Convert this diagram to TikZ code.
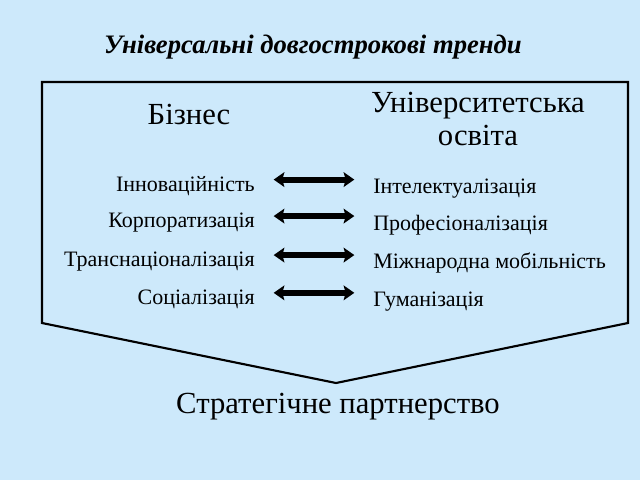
\documentclass[tikz,border=0pt]{standalone}
\usepackage{fontspec}
\setmainfont{Liberation Serif}
\usepackage{tikz}
\usetikzlibrary{arrows.meta}

\definecolor{skyback}{RGB}{205,233,251}

\tikzset{
  trendtitle/.style={font=\fontsize{20}{22}\selectfont\itshape\bfseries, inner sep=0pt},
  colhead/.style={font=\fontsize{23}{26}\selectfont, inner sep=0pt, align=center},
  lefttrend/.style={font=\fontsize{16.5}{18}\selectfont, inner sep=0pt, anchor=base east},
  righttrend/.style={font=\fontsize{16.5}{18}\selectfont, inner sep=0pt, anchor=base west},
  twoway/.style={line width=4.5pt, {Stealth[length=8pt,width=11pt,inset=1.5pt]}-{Stealth[length=8pt,width=11pt,inset=1.5pt]}, shorten <=14pt, shorten >=14pt}
}

\begin{document}
\begin{tikzpicture}[x=0.75pt, y=-0.75pt]
% background
    \fill[skyback] (0, 0) rectangle (640, 480);
    \useasboundingbox (0, 0) rectangle (640, 480);

% title
    \node[trendtitle, anchor=base] (title) at (313, 53) {Універсальні довгострокові тренди};

% draw outer pentagon
    \draw[line width=1.6pt, line join=miter] (42, 82) -- (628, 82) -- (628, 323) -- (336, 383) -- (42, 323) -- cycle;

% column heads
    \node[colhead, anchor=base] (biz) at (189, 124) {Бізнес};
    \node[colhead, anchor=base] (uni) at (478, 112) {Університетська};
    \node[colhead, anchor=base] (osv) at (478, 145) {освіта};

% business trends
    \node[lefttrend] (inn) at (255, 191) {Інноваційність};
    \node[lefttrend] (korp) at (255, 227) {Корпоратизація};
    \node[lefttrend] (trans) at (255, 266) {Транснаціоналізація};
    \node[lefttrend] (soc) at (255, 304) {Соціалізація};

% university trends
    \node[righttrend] (intel) at (373, 193) {Інтелектуалізація};
    \node[righttrend] (prof) at (373, 230) {Професіоналізація};
    \node[righttrend] (mizh) at (373, 268) {Міжнародна мобільність};
    \node[righttrend] (hum) at (373, 306) {Гуманізація};

% draw arrows
    \draw[twoway] ([yshift=4.5pt]inn.east) -- ([yshift=4.5pt]inn.east -| intel.west);
    \draw[twoway] ([yshift=4.5pt]korp.east) -- ([yshift=4.5pt]korp.east -| prof.west);
    \draw[twoway] ([yshift=4.5pt]trans.east) -- ([yshift=4.5pt]trans.east -| mizh.west);
    \draw[twoway] ([yshift=4.5pt]soc.east) -- ([yshift=4.5pt]soc.east -| hum.west);

% bottom label
    \node[colhead, anchor=base] (strat) at (338, 413) {Стратегічне партнерство};
\end{tikzpicture}
\end{document}
